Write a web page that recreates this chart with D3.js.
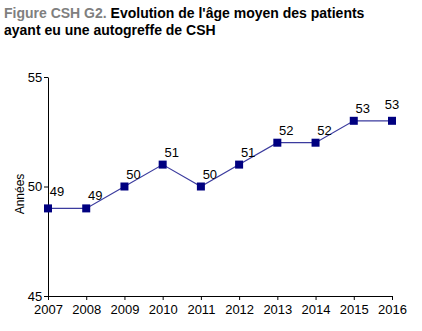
<!DOCTYPE html>
<html>
<head>
<meta charset="utf-8">
<script src="https://cdn.jsdelivr.net/npm/d3@7"></script>
<style>
  body { margin: 0; background: #fff; }
  svg { display: block; font-family: "Liberation Sans", Arial, sans-serif; }
</style>
</head>
<body>
<div id="chart"></div>
<script>
const years = [2007, 2008, 2009, 2010, 2011, 2012, 2013, 2014, 2015, 2016];
const ages = [49, 49, 50, 51, 50, 51, 52, 52, 53, 53];
const yTicks = [45, 50, 55];

const width = 422, height = 331;
const margin = { top: 77, right: 30, bottom: 35, left: 48 };

const svg = d3.select("#chart").append("svg")
  .attr("width", width)
  .attr("height", height);

// title
const title = svg.append("text").attr("x", 4).attr("y", 18)
  .attr("font-size", 14).attr("font-weight", "bold");
title.append("tspan").attr("fill", "#7f7f7f").text("Figure CSH G2. ");
title.append("tspan").attr("fill", "#000").text("Evolution de l'âge moyen des patients");
svg.append("text").attr("x", 4).attr("y", 35)
  .attr("font-size", 14).attr("font-weight", "bold")
  .text("ayant eu une autogreffe de CSH");

const x = d3.scalePoint()
  .domain(years)
  .range([margin.left, 392]);

const y = d3.scaleLinear()
  .domain([45, 55])
  .range([296, margin.top]);

const xAxis = svg.append("g")
  .attr("transform", `translate(0,${y(45)})`)
  .call(d3.axisBottom(x).tickSize(4).tickSizeOuter(0));
xAxis.select(".domain").attr("stroke", "#000");
xAxis.selectAll("text").attr("font-size", 13).attr("fill", "#000").attr("dy", "0.85em");

const yAxis = svg.append("g")
  .attr("transform", `translate(${margin.left},0)`)
  .call(d3.axisLeft(y).tickValues(yTicks).tickSize(4).tickSizeOuter(0));
yAxis.select(".domain").attr("stroke", "#000");
yAxis.selectAll("text").attr("font-size", 13).attr("fill", "#000").attr("dx", "0.1em");

svg.append("text")
  .attr("transform", `translate(24,194) rotate(-90)`)
  .attr("text-anchor", "middle")
  .attr("font-size", 12)
  .attr("fill", "#000")
  .text("Années");

const pts = years.map((yr, i) => ({ year: yr, value: ages[i] }));

svg.append("path")
  .datum(pts)
  .attr("fill", "none")
  .attr("stroke", "#3b3b9e")
  .attr("stroke-width", 1.2)
  .attr("d", d3.line().x(d => x(d.year)).y(d => y(d.value)));

svg.selectAll(".mk").data(pts).join("rect")
  .attr("class", "mk")
  .attr("x", d => x(d.year) - 4)
  .attr("y", d => y(d.value) - 4)
  .attr("width", 8)
  .attr("height", 8)
  .attr("fill", "#000080");

const last = pts.length - 1;
svg.selectAll(".lbl").data(pts).join("text")
  .attr("class", "lbl")
  .attr("x", (d, i) => x(d.year) + (i === last ? 0 : 9))
  .attr("y", (d, i) => y(d.value) - (i === last || i === 0 ? 12 : 8))
  .attr("text-anchor", "middle")
  .attr("font-size", 13)
  .attr("fill", "#000")
  .text(d => d.value);
</script>
</body>
</html>
